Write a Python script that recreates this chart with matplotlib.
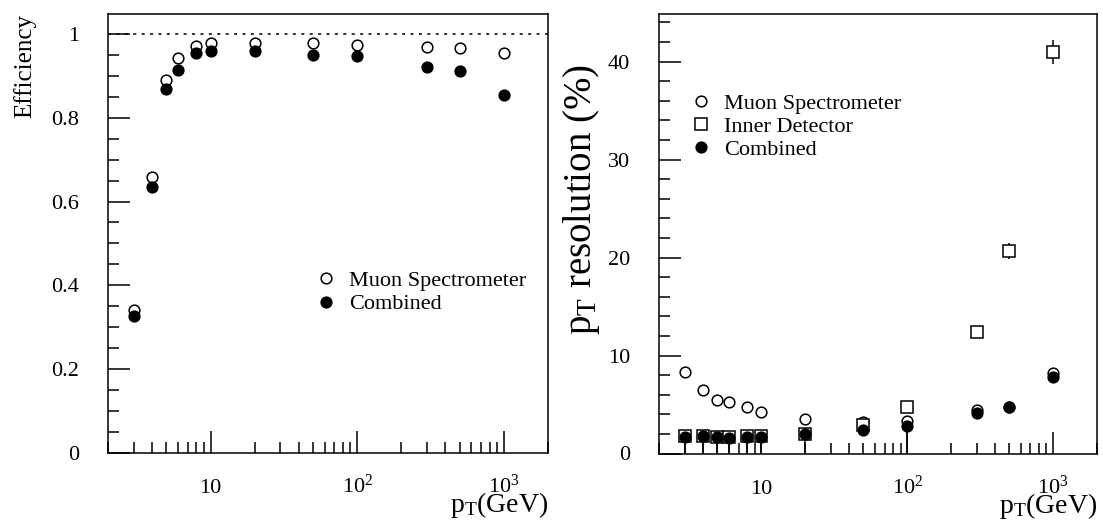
import matplotlib
matplotlib.use("Agg")
import matplotlib.pyplot as plt
from matplotlib.ticker import FixedLocator, FixedFormatter, LogLocator, NullFormatter, MultipleLocator

plt.rcParams["font.family"] = ["Liberation Serif", "DejaVu Serif"]
plt.rcParams["mathtext.fontset"] = "custom"
plt.rcParams["mathtext.rm"] = "Liberation Serif"
plt.rcParams["mathtext.it"] = "Liberation Serif:italic"

# transverse momentum points (GeV)
pt = [3, 4, 5, 6, 8, 10, 20, 50, 100, 300, 500, 1000]

# left: efficiency
eff_ms = [0.341, 0.658, 0.890, 0.944, 0.971, 0.978, 0.978, 0.978, 0.975, 0.970, 0.967, 0.955]
eff_comb = [0.327, 0.635, 0.870, 0.914, 0.954, 0.960, 0.960, 0.950, 0.947, 0.922, 0.912, 0.854]

# right: pT resolution (%)
res_ms = [8.29, 6.48, 5.46, 5.22, 4.71, 4.20, 3.55, 3.25, 3.32, 4.41, 4.78, 8.18]
res_id = [1.75, 1.78, 1.72, 1.65, 1.74, 1.75, 1.95, 2.90, 4.71, 12.4, 20.66, 40.95]
res_id_err = [0, 0, 0, 0, 0, 0, 0, 0, 0, 0, 0.85, 1.2]
res_comb = [1.72, 1.75, 1.72, 1.62, 1.72, 1.70, 1.95, 2.40, 2.81, 4.10, 4.78, 7.84]
res_comb_err_lo = [1.72, 1.75, 1.72, 1.62, 1.72, 1.70, 1.95, 0, 2.81, 0, 0, 0]

fig = plt.figure(figsize=(11.03, 5.26), dpi=100)
ax1 = fig.add_axes([108 / 1103, 73.3 / 526, 440 / 1103, 438.7 / 526])
ax2 = fig.add_axes([659.3 / 1103, 72.5 / 526, 437.7 / 1103, 439.5 / 526])

ms = 7.7
mew = 1.1


def style_axes(ax):
    ax.set_xscale("log")
    ax.set_xlim(2, 2000)
    for sp in ax.spines.values():
        sp.set_linewidth(1.1)
    ax.xaxis.set_major_locator(FixedLocator([10, 100, 1000]))
    ax.xaxis.set_major_formatter(FixedFormatter(["10", "$10^2$", "$10^3$"]))
    ax.xaxis.set_minor_locator(LogLocator(base=10, subs=range(2, 10), numticks=20))
    ax.xaxis.set_minor_formatter(NullFormatter())
    ax.tick_params(which="both", direction="in", top=False, right=False, width=1.1, color="black")
    ax.tick_params(which="major", length=15.8)
    ax.tick_params(which="minor", length=7.9)
    ax.tick_params(axis="x", which="major", pad=29, labelsize=16)
    ax.tick_params(axis="y", which="major", pad=21, labelsize=16)
    for lab in ax.get_xticklabels():
        lab.set_va("baseline")
    ax.set_xlabel(r"p$_{\rm T}$(GeV)", fontsize=20, ha="right", va="baseline")
    ax.xaxis.set_label_coords(1.0, -0.135)


leg_kw = dict(loc="upper left", frameon=False, fontsize=16, handlelength=1.0,
              handletextpad=0.55, labelspacing=0.12, borderpad=0, borderaxespad=0)

# ---- left panel ----
style_axes(ax1)
ax1.set_ylim(0, 1.048)
ax1.yaxis.set_major_locator(FixedLocator([0, 0.2, 0.4, 0.6, 0.8, 1.0]))
ax1.yaxis.set_major_formatter(FixedFormatter(["0", "0.2", "0.4", "0.6", "0.8", "1"]))
ax1.yaxis.set_minor_locator(MultipleLocator(0.05))
ax1.axhline(1.0, color="black", lw=1.1, ls=(0, (2, 3.5)))
ax1.plot(pt, eff_ms, "o", ms=ms, mfc="white", mec="black", mew=mew, label="Muon Spectrometer")
ax1.plot(pt, eff_comb, "o", ms=ms, mfc="black", mec="black", mew=mew, label="Combined")
ax1.set_ylabel("Efficiency", fontsize=18, ha="right", va="baseline")
ax1.yaxis.set_label_coords(-0.175, 1.0)
ax1.legend(bbox_to_anchor=(0.47, 0.415), **leg_kw)

# ---- right panel ----
style_axes(ax2)
ax2.set_ylim(0, 44.85)
ax2.yaxis.set_major_locator(FixedLocator([0, 10, 20, 30, 40]))
ax2.yaxis.set_major_formatter(FixedFormatter(["0", "10", "20", "30", "40"]))
ax2.yaxis.set_minor_locator(MultipleLocator(2))
ax2.errorbar(pt, res_id, yerr=res_id_err, fmt="none", ecolor="black", elinewidth=1.1)
ax2.errorbar(pt, res_comb, yerr=[res_comb_err_lo, [0] * len(pt)], fmt="none",
             ecolor="black", elinewidth=1.1)
ax2.plot(pt, res_ms, "o", ms=ms, mfc="white", mec="black", mew=mew, label="Muon Spectrometer")
ax2.plot(pt, res_id, "s", ms=8.6, mfc="white", mec="black", mew=mew, label="Inner Detector")
ax2.plot(pt, res_comb, "o", ms=ms, mfc="black", mec="black", mew=mew, label="Combined")
ax2.set_ylabel(r"p$_{\rm T}$ resolution (%)", fontsize=28, ha="left", va="baseline")
ax2.yaxis.set_label_coords(-0.155, 0.27)
ax2.legend(bbox_to_anchor=(0.07, 0.82), **leg_kw)

fig.savefig("out.png", dpi=100)
